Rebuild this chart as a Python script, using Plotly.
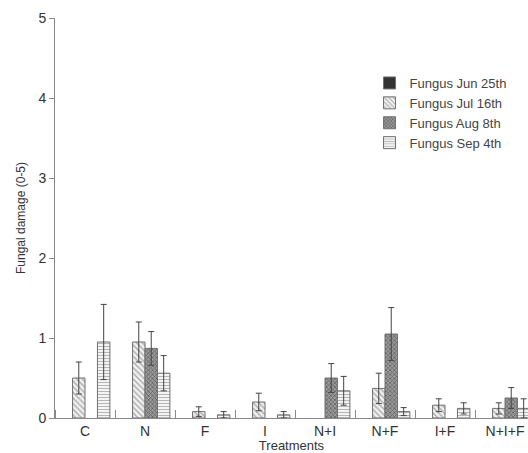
import plotly.graph_objects as go

treatments = ["C", "N", "F", "I", "N+I", "N+F", "I+F", "N+I+F"]
series_names = ["Fungus Jun 25th", "Fungus Jul 16th", "Fungus Aug 8th", "Fungus Sep 4th"]
jun = [None, None, None, None, None, None, None, None]
jun_err = [0, 0, 0, 0, 0, 0, 0, 0]
jul = [0.50, 0.95, 0.08, 0.20, None, 0.37, 0.16, 0.12]
jul_err = [0.20, 0.25, 0.06, 0.11, 0, 0.19, 0.08, 0.07]
aug = [None, 0.87, None, None, 0.50, 1.05, None, 0.25]
aug_err = [0, 0.21, 0, 0, 0.18, 0.33, 0, 0.13]
sep = [0.95, 0.56, 0.04, 0.04, 0.34, 0.08, 0.12, 0.12]
sep_err = [0.47, 0.22, 0.04, 0.04, 0.18, 0.05, 0.07, 0.12]

values = [jun, jul, aug, sep]
errors = [jun_err, jul_err, aug_err, sep_err]
styles = [
    dict(color="#333333", pattern=dict(shape="")),
    dict(color="#f0f0f0", pattern=dict(shape="\\", fgcolor="#666666", bgcolor="#f0f0f0", size=4, solidity=0.35)),
    dict(color="#8a8a8a", pattern=dict(shape="x", fgcolor="#2a2a2a", bgcolor="#9a9a9a", size=3, solidity=0.45)),
    dict(color="#f4f4f4", pattern=dict(shape="-", fgcolor="#777777", bgcolor="#f4f4f4", size=3, solidity=0.35)),
]

x_pos = list(range(len(treatments)))
fig = go.Figure()
for name, v, e, st in zip(series_names, values, errors, styles):
    fig.add_trace(go.Bar(
        x=x_pos, y=v, name=name,
        marker=dict(color=st["color"], pattern=st["pattern"], line=dict(color="#707070", width=1)),
        error_y=dict(type="data", array=e, visible=True, color="#444444", thickness=1, width=3),
    ))

fig.update_layout(
    width=528, height=453,
    margin=dict(l=55, r=0, t=18, b=35),
    paper_bgcolor="white", plot_bgcolor="white",
    barmode="group", bargap=0.17, bargroupgap=0,
    font=dict(family="Arial, Liberation Sans, sans-serif", color="#333333"),
    showlegend=True,
    legend=dict(x=0.665, y=0.875, xanchor="left", yanchor="top",
                font=dict(size=13, color="#444444"), bgcolor="rgba(0,0,0,0)",
                itemwidth=30, tracegroupgap=0),
)
fig.update_xaxes(
    range=[-0.5, 7.5 - 7 / 60], tickvals=x_pos, ticktext=treatments, automargin=False,
    ticks="", showline=True, linecolor="#888888", linewidth=1, showgrid=False, zeroline=False,
    tickfont=dict(size=14, color="#333333"),
    minor=dict(tick0=0.5, dtick=1, ticks="inside", ticklen=8, tickcolor="#888888"),
    title=dict(text="Treatments", font=dict(size=13, color="#333333"), standoff=0),
)
fig.update_yaxes(
    range=[0, 5], tickvals=[0, 1, 2, 3, 4, 5], automargin=False,
    ticks="outside", ticklen=5, tickcolor="#888888",
    showline=True, linecolor="#888888", linewidth=1, showgrid=False, zeroline=False,
    tickfont=dict(size=14, color="#333333"),
    title=dict(text="Fungal damage (0-5)", font=dict(size=12, color="#333333"), standoff=10),
)
fig.write_html("out.html", config={"displayModeBar": False},
               post_script="document.body.style.margin='0';")
